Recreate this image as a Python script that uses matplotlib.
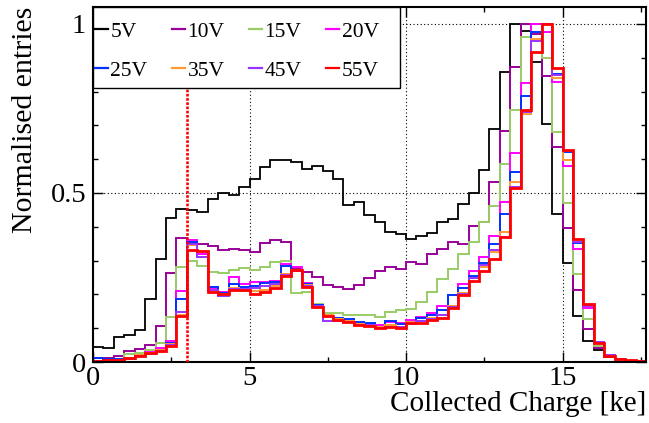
import numpy as np
import matplotlib
matplotlib.use("Agg")
import matplotlib.pyplot as plt
from matplotlib.ticker import MultipleLocator, FuncFormatter
from matplotlib.lines import Line2D
from matplotlib.patches import Rectangle

plt.rcParams["font.family"] = ["Liberation Serif", "DejaVu Serif"]

# Histogram binning: 53 bins of 1/3 ke from 0 to 17.67 ke
n_bins = 53
bin_width = 1.0 / 3.0
bin_edges = np.arange(n_bins + 1) * bin_width

bias_labels = ["5V", "10V", "15V", "20V", "25V", "35V", "45V", "55V"]
bias_colors = ["#000000", "#990099", "#99cc66", "#ff00ff",
               "#0033ff", "#ff9933", "#9933ff", "#ff0000"]

h_5V = [0.045, 0.042, 0.075, 0.080, 0.094, 0.185, 0.304, 0.427, 0.454, 0.450,
        0.443, 0.483, 0.500, 0.495, 0.517, 0.541, 0.578, 0.596, 0.598, 0.593,
        0.571, 0.581, 0.564, 0.541, 0.463, 0.472, 0.435, 0.414, 0.385, 0.380,
        0.364, 0.373, 0.381, 0.414, 0.422, 0.467, 0.499, 0.568, 0.689, 0.859,
        1.000, 0.980, 0.888, 0.704, 0.437, 0.292, 0.136, 0.062, 0.035, 0.016,
        0.008, 0.004, 0.002]
h_10V = [0.011, 0.011, 0.019, 0.032, 0.039, 0.050, 0.107, 0.262, 0.368, 0.351,
         0.348, 0.343, 0.331, 0.335, 0.330, 0.325, 0.351, 0.362, 0.355, 0.279,
         0.265, 0.250, 0.228, 0.223, 0.217, 0.228, 0.248, 0.270, 0.281, 0.274,
         0.296, 0.289, 0.319, 0.333, 0.356, 0.350, 0.403, 0.415, 0.533, 0.684,
         0.874, 1.000, 0.970, 0.846, 0.637, 0.395, 0.213, 0.098, 0.040, 0.016,
         0.006, 0.003, 0.002]
h_15V = [0.003, 0.003, 0.010, 0.024, 0.028, 0.036, 0.055, 0.134, 0.282, 0.300,
         0.285, 0.267, 0.262, 0.272, 0.277, 0.271, 0.282, 0.297, 0.300, 0.205,
         0.208, 0.171, 0.146, 0.144, 0.139, 0.139, 0.138, 0.134, 0.149, 0.154,
         0.158, 0.177, 0.206, 0.245, 0.274, 0.319, 0.356, 0.413, 0.460, 0.586,
         0.744, 0.961, 1.000, 0.900, 0.680, 0.469, 0.260, 0.126, 0.048, 0.018,
         0.007, 0.003, 0.002]
h_20V = [0.004, 0.004, 0.006, 0.012, 0.022, 0.030, 0.040, 0.062, 0.210, 0.361,
         0.320, 0.218, 0.208, 0.252, 0.230, 0.238, 0.238, 0.240, 0.290, 0.282,
         0.235, 0.170, 0.140, 0.130, 0.122, 0.115, 0.113, 0.108, 0.118, 0.115,
         0.125, 0.134, 0.144, 0.166, 0.198, 0.230, 0.270, 0.310, 0.374, 0.474,
         0.617, 0.824, 1.000, 0.975, 0.829, 0.581, 0.334, 0.160, 0.060, 0.020,
         0.008, 0.004, 0.002]
h_25V = [0.011, 0.008, 0.008, 0.012, 0.020, 0.028, 0.036, 0.055, 0.186, 0.354,
         0.312, 0.223, 0.205, 0.230, 0.223, 0.226, 0.233, 0.236, 0.285, 0.272,
         0.230, 0.168, 0.140, 0.129, 0.127, 0.117, 0.114, 0.105, 0.120, 0.112,
         0.118, 0.129, 0.139, 0.154, 0.198, 0.220, 0.255, 0.294, 0.349, 0.438,
         0.561, 0.788, 0.977, 1.000, 0.851, 0.622, 0.353, 0.168, 0.058, 0.020,
         0.008, 0.004, 0.002]
h_35V = [0.003, 0.004, 0.006, 0.011, 0.020, 0.027, 0.035, 0.052, 0.140, 0.345,
         0.310, 0.210, 0.200, 0.218, 0.210, 0.210, 0.213, 0.225, 0.260, 0.272,
         0.228, 0.166, 0.138, 0.126, 0.120, 0.112, 0.110, 0.103, 0.108, 0.105,
         0.118, 0.122, 0.130, 0.140, 0.165, 0.205, 0.248, 0.280, 0.326, 0.384,
         0.533, 0.733, 0.956, 1.000, 0.841, 0.596, 0.356, 0.170, 0.058, 0.020,
         0.008, 0.004, 0.002]
h_45V = [0.003, 0.003, 0.005, 0.010, 0.018, 0.025, 0.034, 0.050, 0.147, 0.350,
         0.312, 0.213, 0.195, 0.215, 0.215, 0.218, 0.225, 0.230, 0.257, 0.269,
         0.225, 0.165, 0.122, 0.120, 0.118, 0.110, 0.108, 0.100, 0.105, 0.104,
         0.112, 0.120, 0.128, 0.138, 0.162, 0.200, 0.248, 0.287, 0.330, 0.371,
         0.517, 0.740, 0.950, 1.000, 0.849, 0.624, 0.356, 0.165, 0.060, 0.020,
         0.008, 0.004, 0.002]
h_55V = [0.002, 0.005, 0.006, 0.011, 0.019, 0.026, 0.033, 0.048, 0.136, 0.331,
         0.328, 0.207, 0.200, 0.213, 0.212, 0.202, 0.207, 0.220, 0.255, 0.273,
         0.223, 0.164, 0.137, 0.124, 0.117, 0.109, 0.107, 0.100, 0.103, 0.101,
         0.115, 0.115, 0.124, 0.129, 0.159, 0.198, 0.240, 0.269, 0.304, 0.371,
         0.516, 0.744, 0.918, 1.000, 0.869, 0.627, 0.364, 0.171, 0.055, 0.018,
         0.008, 0.005, 0.003]

histograms = [h_5V, h_10V, h_15V, h_20V, h_25V, h_35V, h_45V, h_55V]
line_widths = [1.3, 1.4, 1.4, 1.4, 1.4, 1.4, 1.4, 2.0]

threshold_ke = 3.0

W, H = 649, 423
fig = plt.figure(figsize=(W / 100, H / 100), dpi=100)
ax_l, ax_r, ax_t, ax_b = 93, 646, 7, 362
ax = fig.add_axes([ax_l / W, 1 - ax_b / H, (ax_r - ax_l) / W, (ax_b - ax_t) / H])

for vals, col, lw in zip(histograms, bias_colors, line_widths):
    ax.stairs(vals, bin_edges, baseline=None, color=col, lw=lw, zorder=2)

ax.axvline(threshold_ke, color="#ff0000", lw=1.9, ls=(0, (1, 0.6)), zorder=3)

ax.set_xlim(0, bin_edges[-1])
ax.set_ylim(0, 1.05)

ax.xaxis.set_major_locator(MultipleLocator(5))
ax.xaxis.set_minor_locator(MultipleLocator(2.5))
ax.yaxis.set_major_locator(MultipleLocator(0.5))
ax.yaxis.set_minor_locator(MultipleLocator(0.1))
ax.yaxis.set_major_formatter(FuncFormatter(lambda v, p: f"{v:g}"))
ax.xaxis.set_major_formatter(FuncFormatter(lambda v, p: f"{v:g}"))

ax.tick_params(which="both", direction="in", top=True, right=True,
               labelsize=20.5, width=1.0, color="black")
ax.tick_params(which="major", length=7.5)
ax.tick_params(which="minor", length=3.8)
ax.tick_params(axis="x", pad=3)
ax.tick_params(axis="y", pad=5)
for s in ax.spines.values():
    s.set_linewidth(1.5)

ax.grid(which="major", color="black", lw=0.8, ls=(0, (1, 2.2)), zorder=1)

ax.set_xlabel("Collected Charge [ke]", loc="right", fontsize=21, labelpad=0)
ax.set_ylabel("Normalised entries", loc="top", fontsize=21.5, labelpad=9)

# Legend: opaque framed box in the upper-left corner, entries filled row by row
bx0 = 0.0
bx1 = (400 - ax_l) / (ax_r - ax_l)
by0 = (ax_b - 88) / (ax_b - ax_t)
ax.add_patch(Rectangle((bx0, by0), bx1 - bx0, 1 - by0, transform=ax.transAxes,
                       facecolor="white", edgecolor="black", lw=1.0, zorder=4))

handles = [Line2D([], [], color=c, lw=1.6) for c in bias_colors]
order = [0, 4, 1, 5, 2, 6, 3, 7]
leg = ax.legend([handles[i] for i in order], [bias_labels[i] for i in order],
                ncol=4, loc="upper left", bbox_to_anchor=(2 / (ax_r - ax_l), 0.958),
                frameon=False, fontsize=15.5, borderpad=0, borderaxespad=0,
                handlelength=0.6, handletextpad=0.12, columnspacing=1.14,
                labelspacing=0.88)
leg.set_zorder(5)

fig.savefig("out.png", dpi=100)
